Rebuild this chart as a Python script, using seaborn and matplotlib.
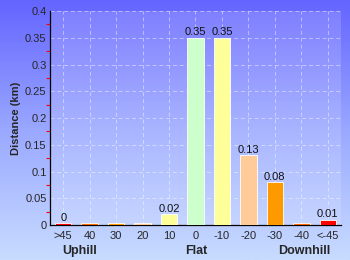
import numpy as np
import pandas as pd
import matplotlib
matplotlib.use("Agg")
import matplotlib.pyplot as plt
import seaborn as sns
from matplotlib.colors import LinearSegmentedColormap

categories = [">45", "40", "30", "20", "10", "0", "-10", "-20", "-30", "-40", "<-45"]
distances = [0.003, 0.003, 0.003, 0.003, 0.02, 0.35, 0.35, 0.13, 0.08, 0.003, 0.01]
labels = ["0", "", "", "", "0.02", "0.35", "0.35", "0.13", "0.08", "", "0.01"]
colors = ["#ff0000", "#ff6600", "#ff9900", "#ffcc99", "#ffff99", "#ccffcc",
          "#ffff99", "#ffcc99", "#ff9900", "#ff6600", "#ff0000"]
groups = ["Uphill", "Flat", "Downhill"]
group_pos = [0.63, 5.02, 9.1]
yticks = [0, 0.05, 0.1, 0.15, 0.2, 0.25, 0.3, 0.35, 0.4]
ytick_labels = ["0", "0.05", "0.1", "0.15", "0.2", "0.25", "0.3", "0.35", "0.4"]

sns.set_style("white")
plt.rcParams['font.family'] = ['Liberation Sans', 'DejaVu Sans']

fig = plt.figure(figsize=(3.5, 2.6), dpi=100)

# background gradient
bg = fig.add_axes([0, 0, 1, 1], zorder=-2)
cmap = LinearSegmentedColormap.from_list("bg", ["#6464ff", "#9aa8ff", "#c8dcff"])
grad = np.linspace(0, 1, 256).reshape(-1, 1)
bg.imshow(grad, aspect="auto", cmap=cmap, extent=[0, 1, 0, 1], origin="upper")
bg.axis("off")

ax = fig.add_axes([50/350, 1-225/260, 291/350, 214/260])
ax.set_facecolor((1, 1, 1, 0.15))

df = pd.DataFrame({"cat": categories, "dist": distances})
sns.barplot(data=df, x="cat", y="dist", hue="cat", palette=colors, legend=False,
            width=0.62, ax=ax, order=categories, hue_order=categories, saturation=1,
            edgecolor="white", linewidth=0.6, zorder=3)

for i, (v, lab) in enumerate(zip(distances, labels)):
    if lab:
        ax.text(i, v + 0.001, lab, ha="center", va="bottom", fontsize=8, color="#111111", zorder=4)

ax.set_xlim(-0.5, 10.5)
ax.set_ylim(0, 0.4)
ax.set_yticks(yticks)
ax.set_yticklabels(ytick_labels)
ax.set_yticks(np.arange(0.025, 0.4, 0.05), minor=True)
ax.tick_params(axis="y", which="major", length=5, width=0.8, color="black", labelsize=8, pad=0, direction="inout")
ax.tick_params(axis="y", which="minor", length=3, width=0.8, color="red", left=True, direction="out")
ax.tick_params(axis="x", length=2, labelsize=8, pad=2, color="#333333")
ax.set_xlabel("")
ax.set_ylabel("Distance (km)", fontsize=8, fontweight="bold", labelpad=3)

ax.grid(True, which="major", axis="both", linestyle=(0, (4, 3)), color="white", alpha=0.45, linewidth=0.7, zorder=0)
ax.set_axisbelow(True)

for s in ["top", "right"]:
    ax.spines[s].set_visible(False)
for s in ["left", "bottom"]:
    ax.spines[s].set_color("black")
    ax.spines[s].set_linewidth(0.9)

for g, p in zip(groups, group_pos):
    ax.text(p, -0.048, g, ha="center", va="center", fontsize=9, fontweight="bold",
            transform=ax.transData, clip_on=False)

fig.savefig("out.png", dpi=100)
